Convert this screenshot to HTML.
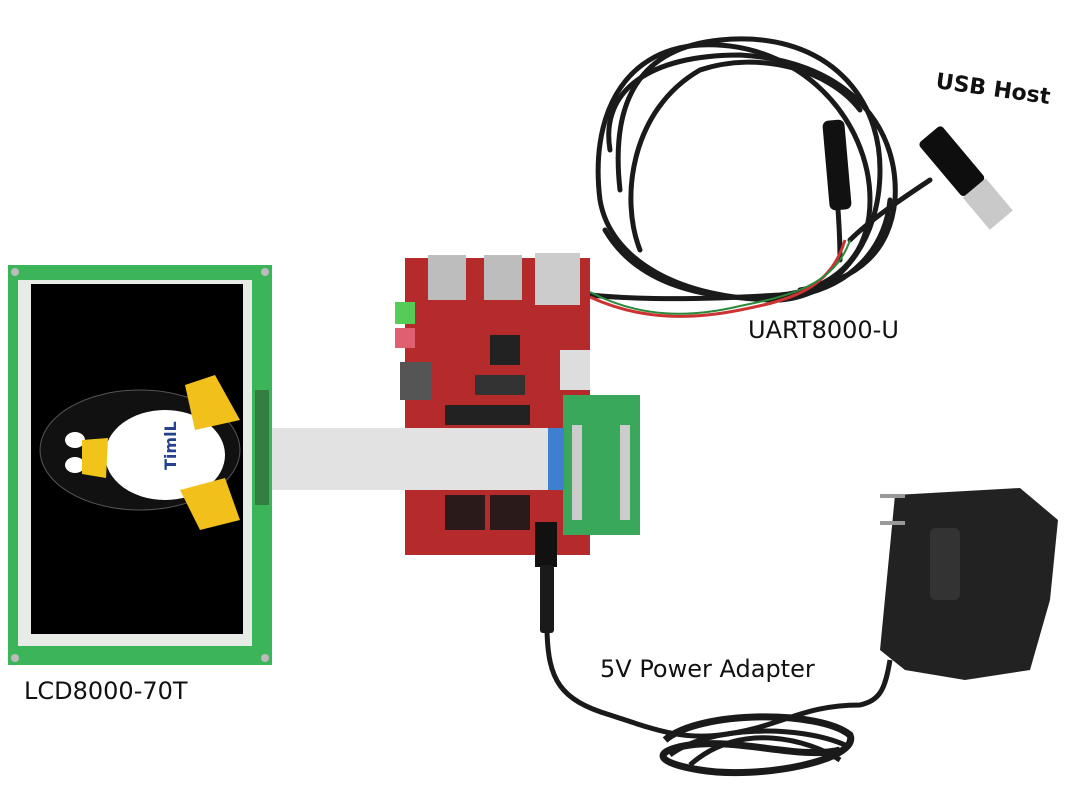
<!DOCTYPE html>
<html><head><meta charset="utf-8"><style>
html,body{margin:0;padding:0;background:#fff;width:1069px;height:789px;overflow:hidden}
svg{display:block}
text{font-family:"DejaVu Sans","Liberation Sans",sans-serif;fill:#111}
</style></head><body>
<svg width="1069" height="789" viewBox="0 0 1069 789" xmlns="http://www.w3.org/2000/svg">
<!-- LCD -->
<rect x="8" y="265" width="264" height="400" fill="#3cb55a"/>
<rect x="18" y="280" width="234" height="366" fill="#e8ece6"/>
<rect x="31" y="284" width="212" height="350" fill="#000"/>
<g fill="#bbb"><circle cx="15" cy="272" r="4"/><circle cx="265" cy="272" r="4"/><circle cx="15" cy="658" r="4"/><circle cx="265" cy="658" r="4"/></g>
<rect x="255" y="390" width="14" height="115" fill="#2a5e32" opacity=".6"/>
<!-- penguin -->
<ellipse cx="140" cy="450" rx="100" ry="60" fill="#111" stroke="#555" stroke-width="1"/>
<ellipse cx="165" cy="455" rx="60" ry="45" fill="#fff"/>
<ellipse cx="75" cy="440" rx="10" ry="8" fill="#fff"/>
<ellipse cx="75" cy="465" rx="10" ry="8" fill="#fff"/>
<path d="M82 440 L108 438 L106 478 L82 474 Z" fill="#f0c419"/>
<path d="M185 385 L215 375 L240 420 L195 430 Z" fill="#f2c01a"/>
<path d="M180 490 L225 478 L240 520 L200 530 Z" fill="#f2c01a"/>
<text x="155" y="475" font-size="16" font-weight="bold" style="fill:#24408e" transform="rotate(-90 163 462)">TimlL</text>
<!-- USB cable -->
<g fill="none" stroke="#1a1a1a" stroke-width="5" stroke-linecap="round">
<path d="M590 295 C 640 300 700 300 780 295 C 830 290 870 260 870 200 C 870 120 800 40 700 45 C 620 50 590 120 600 200 C 610 260 680 300 780 300"/>
<path d="M780 300 C 840 295 880 240 880 170 C 880 90 820 30 720 40 C 640 48 610 100 620 190"/>
<path d="M610 150 C 600 90 650 55 740 55 C 840 60 900 120 895 200 C 890 250 860 280 800 290"/>
<path d="M640 250 C 620 200 630 110 700 70 C 760 50 830 70 860 110"/>
<path d="M605 230 C 640 290 720 305 800 295 C 850 285 885 250 890 200"/>
<path d="M850 240 C 870 220 900 200 930 180"/>
<path d="M840 260 C 840 220 835 170 830 130"/>
</g>
<path d="M590 297 C 640 320 690 320 740 310 C 790 300 830 290 845 240" fill="none" stroke="#c33" stroke-width="3"/>
<path d="M590 292 C 640 318 690 318 740 306 C 790 296 835 285 850 240" fill="none" stroke="#2a8a3a" stroke-width="2"/>
<rect x="826" y="120" width="22" height="90" rx="6" fill="#111" transform="rotate(-5 837 165)"/>
<g transform="rotate(50 955 165)">
<rect x="915" y="150" width="70" height="30" rx="4" fill="#0e0e0e"/>
<rect x="985" y="150" width="42" height="30" fill="#c9c9c9"/>
</g>
<!-- red board -->
<rect x="405" y="258" width="185" height="297" fill="#b52a2a"/>
<rect x="428" y="255" width="38" height="45" fill="#bdbdbd"/>
<rect x="484" y="255" width="38" height="45" fill="#bdbdbd"/>
<rect x="535" y="253" width="45" height="52" fill="#ccc"/>
<rect x="395" y="302" width="20" height="22" fill="#55cc55"/>
<rect x="395" y="328" width="20" height="20" fill="#e06070"/>
<rect x="400" y="362" width="32" height="38" fill="#555"/>
<rect x="475" y="375" width="50" height="20" fill="#333"/>
<rect x="445" y="405" width="85" height="20" fill="#222"/>
<rect x="490" y="335" width="30" height="30" fill="#222"/>
<rect x="560" y="350" width="30" height="40" fill="#ddd"/>
<rect x="445" y="495" width="40" height="35" fill="#2a1a1a"/>
<rect x="490" y="495" width="40" height="35" fill="#2a1a1a"/>
<!-- green adapter -->
<rect x="563" y="395" width="77" height="140" fill="#3aa85a"/>
<rect x="572" y="425" width="10" height="95" fill="#ccc"/>
<rect x="620" y="425" width="10" height="95" fill="#ccc"/>
<!-- ribbon on top -->
<rect x="272" y="428" width="292" height="62" fill="#e2e2e2"/>
<rect x="548" y="428" width="16" height="62" fill="#3f7fd0"/>
<!-- power plug & cable -->
<rect x="535" y="522" width="22" height="45" fill="#111"/>
<rect x="540" y="565" width="14" height="68" rx="3" fill="#1a1a1a"/>
<path d="M547 630 C 548 680 560 700 610 715 C 650 728 680 740 720 735 C 780 728 800 705 860 705 C 880 700 885 690 890 660" fill="none" stroke="#1a1a1a" stroke-width="5"/>
<path d="M665 740 C 700 710 820 710 850 735 C 860 760 760 780 700 770 C 650 762 655 750 690 745 C 740 738 800 760 840 750" fill="none" stroke="#1a1a1a" stroke-width="7"/>
<path d="M670 755 C 710 725 800 725 845 745 M690 765 C 740 720 810 740 840 760" fill="none" stroke="#1a1a1a" stroke-width="5"/>
<!-- adapter body -->
<path d="M895 495 L1020 488 L1058 520 L1050 600 L1030 670 L965 680 L905 670 L880 650 Z" fill="#222"/>
<rect x="930" y="528" width="30" height="72" rx="6" fill="#333"/>
<rect x="880" y="494" width="25" height="4" fill="#999"/>
<rect x="880" y="521" width="25" height="4" fill="#999"/>
<!-- labels -->
<text x="935" y="88" font-size="22" font-weight="bold" transform="rotate(8 935 88)">USB Host</text>
<text x="748" y="338" font-size="24">UART8000-U</text>
<text x="600" y="677" font-size="24">5V Power Adapter</text>
<text x="24" y="699" font-size="24">LCD8000-70T</text>
</svg>
</body></html>
